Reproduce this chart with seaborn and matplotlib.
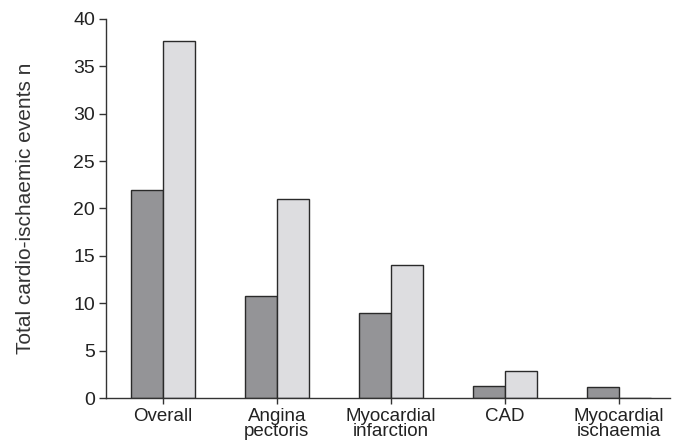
import pandas as pd
import seaborn as sns
import matplotlib.pyplot as plt

categories = ["Overall", "Angina\npectoris", "Myocardial\ninfarction", "CAD", "Myocardial\nischaemia"]
group_a = [22.0, 10.8, 9.0, 1.3, 1.2]
group_b = [37.7, 21.0, 14.0, 2.8, 0.0]
groups = ["Group A", "Group B"]

df = pd.DataFrame({
    "category": categories * 2,
    "events": group_a + group_b,
    "group": [groups[0]] * len(categories) + [groups[1]] * len(categories),
})

sns.set_style("ticks")
plt.rcParams["font.family"] = ["Liberation Sans", "DejaVu Sans"]

fig = plt.figure(figsize=(6.8, 4.48), dpi=100)
ax = fig.add_axes([106 / 680, 50 / 448, (670 - 106) / 680, (398 - 19) / 448])

sns.barplot(data=df, x="category", y="events", hue="group",
            palette=["#949497", "#dcdde0"], width=0.56,
            edgecolor="#2a2a2a", linewidth=1.0, legend=False, ax=ax)

ax.set_ylim(0, 40)
ax.set_xlim(-0.5, 4.45)
ax.set_yticks(range(0, 41, 5))
ax.set_xlabel("")
ax.set_ylabel("Total cardio-ischaemic events n", fontsize=15, color="#333333")
ax.yaxis.set_label_coords(-0.125, 0.5)

sns.despine(ax=ax)
for side in ["left", "bottom"]:
    ax.spines[side].set_color("#333333")
    ax.spines[side].set_linewidth(1.0)

ax.tick_params(axis="y", length=5, width=1, color="#333333", labelsize=14, labelcolor="#222222", pad=3)
ax.tick_params(axis="x", length=4.5, width=1, color="#333333", labelsize=13.5, labelcolor="#222222", pad=2.5)
for lbl in ax.get_xticklabels():
    lbl.set_linespacing(0.9)

fig.savefig("out.png", dpi=100)
